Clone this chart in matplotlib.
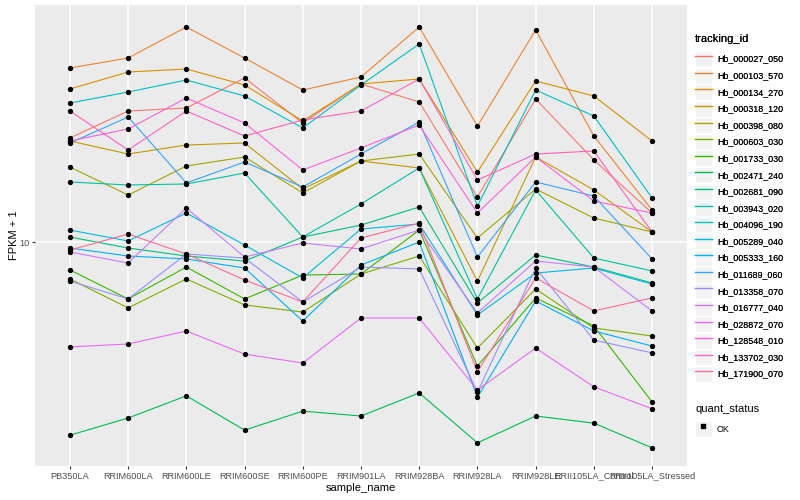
import matplotlib
matplotlib.use("Agg")
import matplotlib.pyplot as plt
from matplotlib.lines import Line2D
from matplotlib.patches import Rectangle
from matplotlib.legend_handler import HandlerTuple
from matplotlib.ticker import NullLocator, NullFormatter

plt.rcParams['font.family'] = ['Liberation Sans', 'DejaVu Sans']

samples = ["PB350LA", "RRIM600LA", "RRIM600LE", "RRIM600SE", "RRIM600PE",
           "RRIM901LA", "RRIM928BA", "RRIM928LA", "RRIM928LE",
           "RRII105LA_Control", "RRII105LA_Stressed"]

tracking_ids = ["Hb_000027_050", "Hb_000103_570", "Hb_000134_270", "Hb_000318_120",
                "Hb_000398_080", "Hb_000603_030", "Hb_001733_030", "Hb_002471_240",
                "Hb_002681_090", "Hb_003943_020", "Hb_004096_190", "Hb_005289_040",
                "Hb_005333_160", "Hb_011689_060", "Hb_013358_070", "Hb_016777_040",
                "Hb_028872_070", "Hb_128548_010", "Hb_133702_030", "Hb_171900_070"]

# FPKM + 1 values, one list per gene (order of samples above)
hb_000027_050 = [22.22, 27.33, 27.97, 35.21, 24.93, 33.63, 29.29, 14.13, 29.97, 18.77, 12.49]
hb_000103_570 = [38.02, 41.05, 52.08, 41.05, 32.11, 35.48, 52.08, 24.36, 50.90, 22.56, 12.78]
hb_000134_270 = [32.36, 36.87, 37.73, 33.37, 25.31, 33.63, 34.94, 17.11, 34.41, 30.67, 21.71]
hb_000318_120 = [21.71, 19.65, 21.05, 21.38, 15.02, 18.62, 17.65, 7.41, 19.20, 14.91, 10.80]
hb_000398_080 = [17.78, 14.34, 17.92, 19.20, 14.57, 18.62, 19.65, 10.31, 15.02, 12.02, 10.80]
hb_000603_030 = [7.53, 6.03, 7.53, 6.17, 5.84, 7.82, 8.98, 4.43, 6.97, 5.17, 4.86]
hb_001733_030 = [8.07, 6.46, 8.25, 6.46, 7.76, 7.82, 10.96, 3.86, 6.51, 5.25, 2.93]
hb_002471_240 = [2.27, 2.59, 3.07, 2.36, 2.73, 2.63, 3.14, 2.14, 2.63, 2.49, 2.06]
hb_002681_090 = [10.39, 9.55, 8.98, 8.64, 10.39, 11.39, 13.08, 6.26, 9.05, 8.25, 7.30]
hb_003943_020 = [15.85, 15.49, 15.61, 16.98, 10.39, 13.39, 17.65, 6.46, 14.91, 8.84, 8.01]
hb_004096_190 = [29.06, 31.62, 34.67, 30.67, 23.99, 33.37, 45.71, 13.18, 32.11, 26.30, 14.02]
hb_005289_040 = [10.96, 10.08, 12.49, 9.77, 7.59, 11.05, 11.48, 5.71, 7.88, 8.19, 7.24]
hb_005333_160 = [9.55, 8.98, 8.78, 8.19, 5.45, 8.38, 10.00, 3.04, 6.36, 5.05, 4.50]
hb_011689_060 = [21.38, 26.10, 15.73, 18.48, 15.25, 19.65, 25.12, 8.91, 15.85, 14.23, 8.78]
hb_013358_070 = [7.41, 6.46, 9.12, 8.84, 6.31, 8.25, 8.13, 3.16, 8.19, 4.71, 4.27]
hb_016777_040 = [9.26, 8.51, 12.98, 8.91, 9.92, 9.48, 10.96, 5.80, 8.64, 8.25, 5.89]
hb_028872_070 = [4.47, 4.57, 5.05, 4.23, 3.95, 5.58, 5.58, 3.21, 4.43, 3.29, 2.78]
hb_128548_010 = [21.71, 23.81, 30.20, 24.93, 17.38, 20.58, 24.55, 12.49, 19.20, 13.70, 12.49]
hb_133702_030 = [27.33, 20.26, 27.33, 22.56, 25.51, 27.33, 34.94, 16.09, 19.65, 20.11, 10.80]
hb_171900_070 = [9.40, 10.63, 9.12, 7.47, 6.31, 10.31, 11.57, 3.69, 7.59, 5.89, 6.51]

series = [hb_000027_050, hb_000103_570, hb_000134_270, hb_000318_120, hb_000398_080,
          hb_000603_030, hb_001733_030, hb_002471_240, hb_002681_090, hb_003943_020,
          hb_004096_190, hb_005289_040, hb_005333_160, hb_011689_060, hb_013358_070,
          hb_016777_040, hb_028872_070, hb_128548_010, hb_133702_030, hb_171900_070]

colors = ["#F8766D", "#EA8331", "#D89000", "#C09B00", "#A3A500", "#7CAE00", "#39B600",
          "#00BB4E", "#00BF7D", "#00C1A3", "#00BFC4", "#00BAE0", "#00B0F6", "#35A2FF",
          "#9590FF", "#C77CFF", "#E76BF3", "#FA62DB", "#FF62BC", "#FF6C91"]

W, H = 800, 500
fig = plt.figure(figsize=(8, 5), dpi=100)
ax = fig.add_axes([35 / W, 34 / H, 652 / W, 461 / H])
ax.set_facecolor("#EBEBEB")

xs = list(range(len(samples)))
for vals, col in zip(series, colors):
    ax.plot(xs, vals, color=col, lw=0.8, zorder=2)
for vals in series:
    ax.plot(xs, vals, ls="none", marker="o", ms=2.8, color="black", zorder=3)

ax.set_yscale("log")
ax.set_ylim(1.792, 61.66)
ax.set_xlim(-0.6, len(samples) - 0.4)
ax.set_xticks(xs)
ax.set_xticklabels(samples)
ax.set_yticks([10])
ax.set_yticklabels(["10"])
ax.yaxis.set_minor_locator(NullLocator())
ax.yaxis.set_minor_formatter(NullFormatter())
ax.grid(True, color="white", lw=1.1)
ax.set_axisbelow(True)
for s in ax.spines.values():
    s.set_visible(False)
ax.tick_params(length=2.5, width=0.8, color="#333333", labelcolor="#4D4D4D",
               labelsize=6.6, pad=1.5)
ax.set_xlabel("sample_name", fontsize=8, labelpad=2)
ax.set_ylabel("FPKM + 1", fontsize=8, labelpad=0)

key_bg = dict(fc="#F2F2F2", ec="white", lw=1)
legend_kw = dict(loc="upper left", frameon=False, fontsize=6.4, title_fontsize=8,
                 handlelength=1.9, handleheight=2.4, labelspacing=0.06,
                 handletextpad=0.55, borderaxespad=0, borderpad=0,
                 alignment="left", handler_map={tuple: HandlerTuple(ndivide=1)})

handles = [(Rectangle((0, 0), 1, 1, **key_bg), Line2D([], [], color=c, lw=1.0)) for c in colors]
leg1 = fig.legend(handles, tracking_ids, title="tracking_id",
                  bbox_to_anchor=(695 / W, 1 - 34 / H), **legend_kw)
leg1._legend_box.sep = 5
fig.add_artist(leg1)

h2 = [(Rectangle((0, 0), 1, 1, **key_bg),
       Line2D([], [], ls="none", marker="s", ms=2.5, color="black"))]
leg2 = fig.legend(h2, ["OK"], title="quant_status",
                  bbox_to_anchor=(695 / W, 1 - 404 / H), **legend_kw)
leg2._legend_box.sep = 5

fig.savefig("out.png", dpi=100)
